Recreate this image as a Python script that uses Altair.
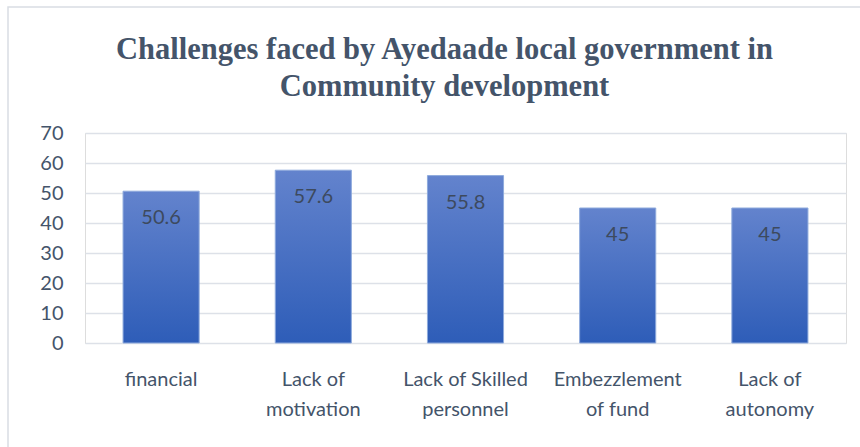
import altair as alt
import pandas as pd

categories = ["financial", "Lack of\nmotivation", "Lack of Skilled\npersonnel", "Embezzlement\nof fund", "Lack of\nautonomy"]
values = [50.6, 57.6, 55.8, 45, 45]
labels = ["50.6", "57.6", "55.8", "45", "45"]
y_ticks = [0, 10, 20, 30, 40, 50, 60, 70]

df = pd.DataFrame({"cat": categories, "val": values, "lab": labels})

TEXT = "#44546a"

x_enc = alt.X("cat:N", sort=categories, title=None,
              scale=alt.Scale(paddingInner=0.5, paddingOuter=0.25),
              axis=alt.Axis(labelExpr="split(datum.label, '\\n')", labelAngle=0,
                            labelFont="Lato", labelFontSize=20,
                            labelColor=TEXT, labelPadding=26, labelLineHeight=30,
                            domain=False, ticks=False, grid=False))

y_enc = alt.Y("val:Q", title=None,
              scale=alt.Scale(domain=[0, 70], nice=False),
              axis=alt.Axis(values=y_ticks, labelFont="Lato", labelFontSize=20,
                            labelColor=TEXT, labelPadding=22, domain=False, ticks=False,
                            labelOverlap=False, gridColor="#dde1e8", gridWidth=1.5))

bars = alt.Chart(df).mark_bar(
    stroke="#8eaadc", strokeWidth=1,
    color=alt.Gradient(gradient="linear", x1=0, y1=0, x2=0, y2=1,
                       stops=[alt.GradientStop(color="#6383cd", offset=0),
                              alt.GradientStop(color="#2e5db8", offset=1)])
).encode(x=x_enc, y=y_enc)

text = alt.Chart(df).mark_text(
    baseline="middle", dy=27, font="Lato", fontSize=20, color="#3d4a5e"
).encode(x=x_enc, y=y_enc, text="lab:N")

frame = alt.Chart(pd.DataFrame({"a": [0]})).mark_rect(
    fill=None, stroke="#d9dde3", strokeWidth=1.5
).encode(
    x=alt.value(-77), x2=alt.value(800), y=alt.value(-126), y2=alt.value(360)
)

chart = alt.layer(frame, bars, text).properties(
    width=761, height=210,
    title=alt.TitleParams(
        text=["Challenges faced by Ayedaade local government in", "Community development"],
        font="Liberation Serif", fontSize=30.5, fontWeight="bold", color=TEXT,
        anchor="middle", frame="group", dx=-21, offset=-96, lineHeight=37
    ),
    autosize=alt.AutoSizeParams(type="none"),
    padding={"left": 85, "top": 133, "right": 14, "bottom": 104},
).configure_view(strokeWidth=0).configure(background="white")

chart.save("out.html", embed_options={"renderer": "svg", "actions": False})
